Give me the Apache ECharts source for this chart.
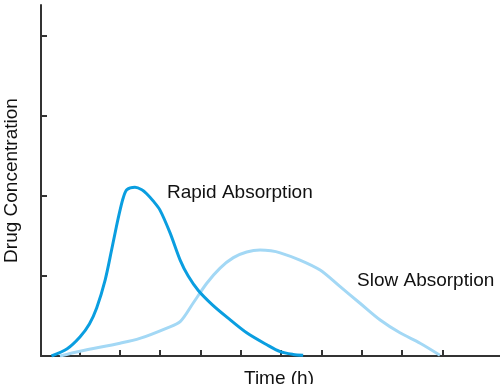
<!DOCTYPE html>
<html>
<head>
<meta charset="utf-8">
<script src="https://cdn.jsdelivr.net/npm/echarts@6/dist/echarts.min.js"></script>
<style>html,body{margin:0;padding:0;background:#fff;}#c{width:500px;height:384px;}</style>
</head>
<body>
<div id="c"></div>
<script>
var xTicks = [1,2,3,4,5,6,7,8,9,10];
var yTicks = [1,2,3,4];
var rapidX = [0.31,0.7,1.02,1.25,1.43,1.64,1.80,1.92,2.01,2.09,2.18,2.38,2.55,2.67,2.83,3.0,3.25,3.5,3.7,3.95,4.3,4.65,5.15,5.65,5.98,6.3,6.55];
var rapidY = [0,0.09,0.24,0.40,0.6,0.95,1.325,1.62,1.825,1.98,2.08,2.11,2.08,2.03,1.94,1.825,1.54,1.2,1.0,0.82,0.64,0.49,0.29,0.14,0.054,0.02,0.01];
var slowX = [0.52,1.02,2.01,2.5,3.17,3.5,3.82,4.16,4.49,4.82,5.15,5.48,5.75,5.98,6.47,6.97,7.46,7.96,8.46,8.95,9.45,9.94];
var slowY = [0,0.06,0.16,0.22,0.35,0.43,0.66,0.91,1.10,1.23,1.30,1.325,1.315,1.29,1.2,1.075,0.87,0.66,0.45,0.29,0.16,0.01];
var seriesNames = ['Rapid Absorption','Slow Absorption'];
var axisNames = ['Time (h)','Drug Concentration'];

function pairs(xs, ys){ return xs.map(function(x,i){ return [x, ys[i]]; }); }

var chart = echarts.init(document.getElementById('c'), null, {renderer:'canvas'});
var font = '"Liberation Sans", Arial, Helvetica, sans-serif';
chart.setOption({
  animation:false,
  grid:{left:41,right:0,top:5,bottom:28,containLabel:false,outerBoundsMode:'none'},
  xAxis:{type:'value',min:0.05,max:11.43,
    axisLine:{show:true,lineStyle:{color:'#333',width:2}},
    axisTick:{show:true,inside:true,length:6,customValues:xTicks,lineStyle:{color:'#333',width:2}},
    axisLabel:{show:false},splitLine:{show:false}},
  yAxis:{type:'value',min:0,max:4.39,
    name:axisNames[1],nameLocation:'middle',nameRotate:90,nameGap:20,
    nameTextStyle:{fontFamily:font,fontSize:19,color:'#111'},
    axisLine:{show:true,lineStyle:{color:'#333',width:2}},
    axisTick:{show:true,inside:true,length:6,customValues:yTicks,lineStyle:{color:'#333',width:2}},
    axisLabel:{show:false},splitLine:{show:false}},
  series:[
    {name:seriesNames[1],type:'line',data:pairs(slowX,slowY),smooth:0.3,symbol:'none',
      lineStyle:{color:'#a3d8f5',width:3},z:2},
    {name:seriesNames[0],type:'line',data:pairs(rapidX,rapidY),smooth:0.3,symbol:'none',
      lineStyle:{color:'#0a9ee0',width:3},z:3}
  ],
  graphic:[
    {type:'text',left:167,top:183,style:{text:seriesNames[0],font:'19px '+font,fill:'#111'}},
    {type:'text',left:357,top:271,style:{text:seriesNames[1],font:'19px '+font,fill:'#111'}},
    {type:'text',left:244,top:369,style:{text:axisNames[0],font:'19px '+font,fill:'#111'}}
  ]
});
</script>
</body>
</html>
